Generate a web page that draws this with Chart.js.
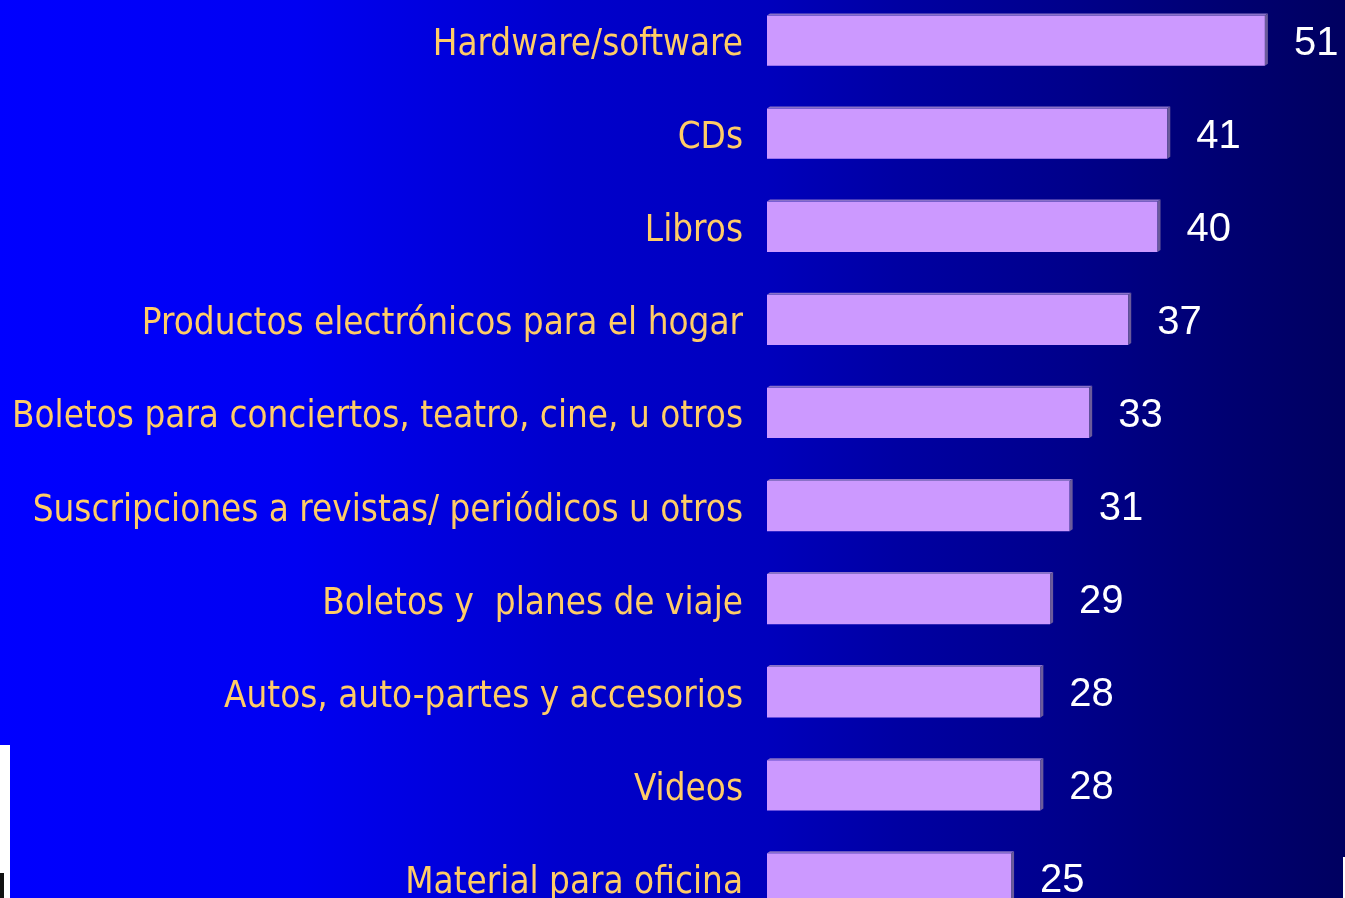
<!DOCTYPE html>
<html>
<head>
<meta charset="utf-8">
<script src="https://cdn.jsdelivr.net/npm/chart.js@4/dist/chart.umd.min.js"></script>
<style>
  html, body { margin: 0; padding: 0; width: 1345px; height: 898px; overflow: hidden; }
  body {
    position: relative;
    background: linear-gradient(to right, #0000ff 0%, #0000f2 22%, #0000cc 42%, #0000bd 57%, #0000a2 67%, #00008c 79%, #000074 90%, #000060 100%);
  }
  #myChart { position: absolute; left: 0; top: -6px; }
  .patch { position: absolute; background: #fff; }
</style>
</head>
<body>
<canvas id="myChart" width="1345" height="931"></canvas>
<div class="patch" style="left:0;top:745px;width:10px;height:153px;"></div>
<div class="patch" style="left:0;top:873px;width:4px;height:25px;background:#111;"></div>
<div class="patch" style="left:1343px;top:857px;width:2px;height:41px;"></div>
<script>
const categories = [
    'Hardware/software',
    'CDs',
    'Libros',
    'Productos electrónicos para el hogar',
    'Boletos para conciertos, teatro, cine, u otros',
    'Suscripciones a revistas/ periódicos u otros',
    'Boletos y  planes de viaje',
    'Autos, auto-partes y accesorios',
    'Videos',
    'Material para oficina'
];
const values = [51, 41, 40, 37, 33, 31, 29, 28, 28, 25];

// 3D edge on each bar + value labels
const barExtras = {
    id: 'barExtras',
    afterDatasetsDraw(chart) {
        const c = chart.ctx;
        const meta = chart.getDatasetMeta(0);
        const dx = 3, dy = 2;
        c.save();
        meta.data.forEach((bar, i) => {
            const top = bar.y - bar.height / 2;
            const bottom = bar.y + bar.height / 2;
            // top face
            c.fillStyle = '#8a72c8';
            c.beginPath();
            c.moveTo(bar.base, top);
            c.lineTo(bar.base + dx, top - dy);
            c.lineTo(bar.x + dx, top - dy);
            c.lineTo(bar.x, top);
            c.closePath();
            c.fill();
            // side face
            c.fillStyle = '#6b5b9b';
            c.beginPath();
            c.moveTo(bar.x, top);
            c.lineTo(bar.x + dx, top - dy);
            c.lineTo(bar.x + dx, bottom - dy);
            c.lineTo(bar.x, bottom);
            c.closePath();
            c.fill();
            // value
            c.fillStyle = '#ffffff';
            c.font = '40px "Liberation Sans", Arial, sans-serif';
            c.textAlign = 'left';
            c.textBaseline = 'middle';
            c.fillText(values[i], bar.x + 29, bar.y + 3);
        });
        c.restore();
    }
};

const ctx = document.getElementById('myChart').getContext('2d');
const chart = new Chart(ctx, {
    type: 'bar',
    data: {
        labels: categories,
        datasets: [{
            data: values,
            backgroundColor: '#cc99ff',
            borderWidth: 0,
            barPercentage: 0.54,
            categoryPercentage: 1
        }]
    },
    options: {
        indexAxis: 'y',
        responsive: false,
        animation: false,
        layout: { padding: 0 },
        plugins: {
            legend: { display: false },
            tooltip: { enabled: false }
        },
        scales: {
            x: {
                display: false,
                min: 0,
                max: 59,
                afterFit: scale => { scale.paddingRight = 2; }
            },
            y: {
                afterFit: scale => {
                    scale.width = 767;
                    scale.paddingTop = 0;
                    scale.paddingBottom = 0;
                },
                grid: { display: false, drawTicks: false },
                border: { display: false },
                ticks: {
                    color: '#ffcc66',
                    padding: 24,
                    labelOffset: 5,
                    font: { family: '"DejaVu Sans Condensed", "DejaVu Sans", sans-serif', size: 36.5 }
                }
            }
        }
    },
    plugins: [barExtras]
});
</script>
</body>
</html>
